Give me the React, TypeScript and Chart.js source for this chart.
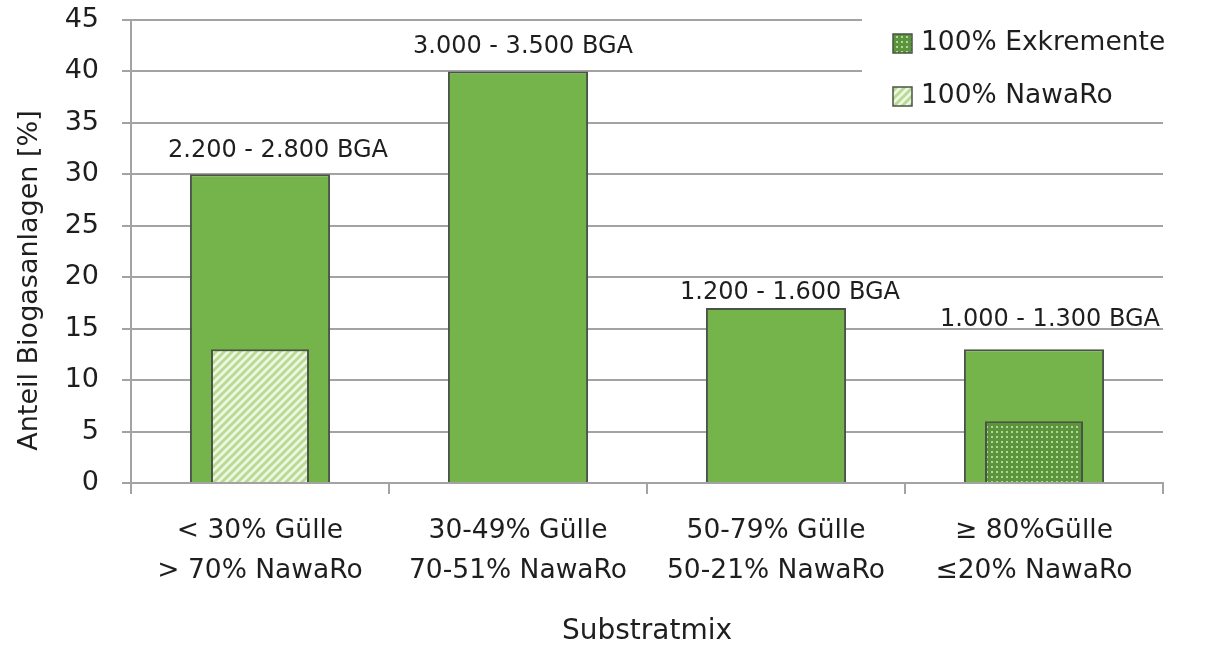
import React, { useEffect, useRef } from "react";
import { Chart, registerables } from "chart.js";

Chart.register(...registerables);

// Substrate mix categories (two-line tick labels)
const categories: string[][] = [
  ["< 30% Gülle", "> 70% NawaRo"],
  ["30-49% Gülle", "70-51% NawaRo"],
  ["50-79% Gülle", "50-21% NawaRo"],
  ["≥ 80%Gülle", "≤20% NawaRo"],
];

// Share of biogas plants per substrate mix [%]
const shareAll = [30, 40, 17, 13];
// Portion running on 100% energy crops (NawaRo)
const shareNawaRo: (number | null)[] = [13, null, null, null];
// Portion running on 100% excrements
const shareExkremente: (number | null)[] = [null, null, null, 6];

// Number of plants written above each bar
const plantCounts = [
  "2.200 - 2.800 BGA",
  "3.000 - 3.500 BGA",
  "1.200 - 1.600 BGA",
  "1.000 - 1.300 BGA",
];

const yMin = 0;
const yMax = 45;
const yStep = 5;

const yTitle = "Anteil Biogasanlagen [%]";
const xTitle = "Substratmix";

// label placement relative to the bar top: [dx, dy]
const countLabelShift: [number, number][] = [
  [18, 24],
  [5, 25],
  [14, 15],
  [16, 29],
];

const FONT = "'DejaVu Sans', sans-serif";
const TEXT = "#1e1e1e";
const GRID = "#a3a3a3";
const GREEN = "#74b44a";
const EDGE = "#4b5347";

function hatchPattern(): CanvasPattern | string {
  const c = document.createElement("canvas");
  c.width = 8;
  c.height = 8;
  const g = c.getContext("2d");
  if (!g) return "#c5e0a5";
  g.fillStyle = "#eef6e4";
  g.fillRect(0, 0, 8, 8);
  g.strokeStyle = "#b9da92";
  g.lineWidth = 3;
  g.beginPath();
  g.moveTo(-1, 9);
  g.lineTo(9, -1);
  g.moveTo(-5, 5);
  g.lineTo(5, -5);
  g.moveTo(3, 13);
  g.lineTo(13, 3);
  g.stroke();
  const p = g.createPattern(c, "repeat");
  return p || "#c5e0a5";
}

function dotPattern(): CanvasPattern | string {
  const c = document.createElement("canvas");
  c.width = 5;
  c.height = 5;
  const g = c.getContext("2d");
  if (!g) return "#5e9b3f";
  g.fillStyle = "#5a953c";
  g.fillRect(0, 0, 5, 5);
  g.fillStyle = "#b3d69a";
  g.fillRect(1, 1, 2, 2);
  const p = g.createPattern(c, "repeat");
  return p || "#5e9b3f";
}

export default function App() {
  const ref = useRef<HTMLCanvasElement | null>(null);

  useEffect(() => {
    const canvas = ref.current;
    if (!canvas) return;
    const hatch = hatchPattern();
    const dots = dotPattern();

    const countLabels = {
      id: "countLabels",
      afterDatasetsDraw(chart: any) {
        const meta = chart.getDatasetMeta(0);
        const ctx = chart.ctx;
        ctx.save();
        ctx.font = `24px ${FONT}`;
        ctx.fillStyle = TEXT;
        ctx.textAlign = "center";
        ctx.textBaseline = "middle";
        meta.data.forEach((bar: any, i: number) => {
          const [dx, dy] = countLabelShift[i];
          ctx.fillText(plantCounts[i], bar.x + dx, bar.y - dy);
        });
        ctx.restore();
      },
    };

    const extras = {
      id: "extras",
      afterDraw(chart: any) {
        const ctx = chart.ctx;
        const area = chart.chartArea;
        ctx.save();
        // axis titles
        ctx.fillStyle = TEXT;
        ctx.font = `28px ${FONT}`;
        ctx.textAlign = "center";
        ctx.textBaseline = "middle";
        ctx.fillText(xTitle, (area.left + area.right) / 2, 632);
        ctx.save();
        ctx.font = `27px ${FONT}`;
        ctx.translate(30, (area.top + area.bottom) / 2 + 29);
        ctx.rotate(-Math.PI / 2);
        ctx.fillText(yTitle, 0, 0);
        ctx.restore();

        // legend box in the upper right corner
        ctx.fillStyle = "#ffffff";
        ctx.fillRect(862, 0, 1211 - 862, 112);
        const items = [
          { label: "100% Exkremente", fill: dots, y: 43 },
          { label: "100% NawaRo", fill: hatch, y: 96 },
        ];
        items.forEach((it) => {
          ctx.fillStyle = it.fill;
          ctx.fillRect(893, it.y - 9, 19, 19);
          ctx.strokeStyle = EDGE;
          ctx.lineWidth = 1.5;
          ctx.strokeRect(893, it.y - 9, 19, 19);
          ctx.fillStyle = TEXT;
          ctx.font = `26.5px ${FONT}`;
          ctx.textAlign = "left";
          ctx.textBaseline = "middle";
          ctx.fillText(it.label, 921, it.y);
        });
        ctx.restore();
      },
    };

    const chart = new Chart(canvas, {
      type: "bar",
      data: {
        labels: categories,
        datasets: [
          {
            label: "Gesamt",
            data: shareAll,
            backgroundColor: GREEN,
            borderColor: EDGE,
            borderWidth: 2,
            barPercentage: 0.543,
            categoryPercentage: 1,
            grouped: false,
            order: 3,
          },
          {
            label: "100% NawaRo",
            data: shareNawaRo,
            backgroundColor: hatch,
            borderColor: EDGE,
            borderWidth: 2,
            barPercentage: 0.38,
            categoryPercentage: 1,
            grouped: false,
            order: 1,
          },
          {
            label: "100% Exkremente",
            data: shareExkremente,
            backgroundColor: dots,
            borderColor: EDGE,
            borderWidth: 2,
            barPercentage: 0.38,
            categoryPercentage: 1,
            grouped: false,
            order: 1,
          },
        ],
      } as any,
      options: {
        animation: false,
        responsive: false,
        maintainAspectRatio: false,
        layout: { padding: { top: 20, right: 48, left: 0, bottom: 0 } },
        plugins: {
          legend: { display: false },
          tooltip: { enabled: false },
        },
        scales: {
          x: {
            grid: {
              display: true,
              drawOnChartArea: false,
              offset: true,
              color: GRID,
              lineWidth: 2,
              tickLength: 11,
            },
            border: { color: GRID, width: 2 },
            ticks: {
              color: TEXT,
              font: { family: FONT, size: 26.5, lineHeight: 1.52 },
              padding: 17,
              maxRotation: 0,
              autoSkip: false,
            },
            afterFit(scale: any) {
              scale.height = 162;
            },
          },
          y: {
            min: yMin,
            max: yMax,
            grid: { color: GRID, lineWidth: 2, tickLength: 9 },
            border: { color: GRID, width: 2 },
            ticks: {
              stepSize: yStep,
              color: TEXT,
              font: { family: FONT, size: 27 },
              padding: 23,
            },
            afterFit(scale: any) {
              scale.width = 131;
              scale.paddingTop = 0;
              scale.paddingBottom = 0;
            },
          },
        },
      } as any,
      plugins: [countLabels, extras],
    });

    return () => chart.destroy();
  }, []);

  return (
    <div style={{ position: "fixed", left: 0, top: 0, width: 1211, height: 645, background: "#fff" }}>
      <canvas ref={ref} width={1211} height={645} />
    </div>
  );
}
